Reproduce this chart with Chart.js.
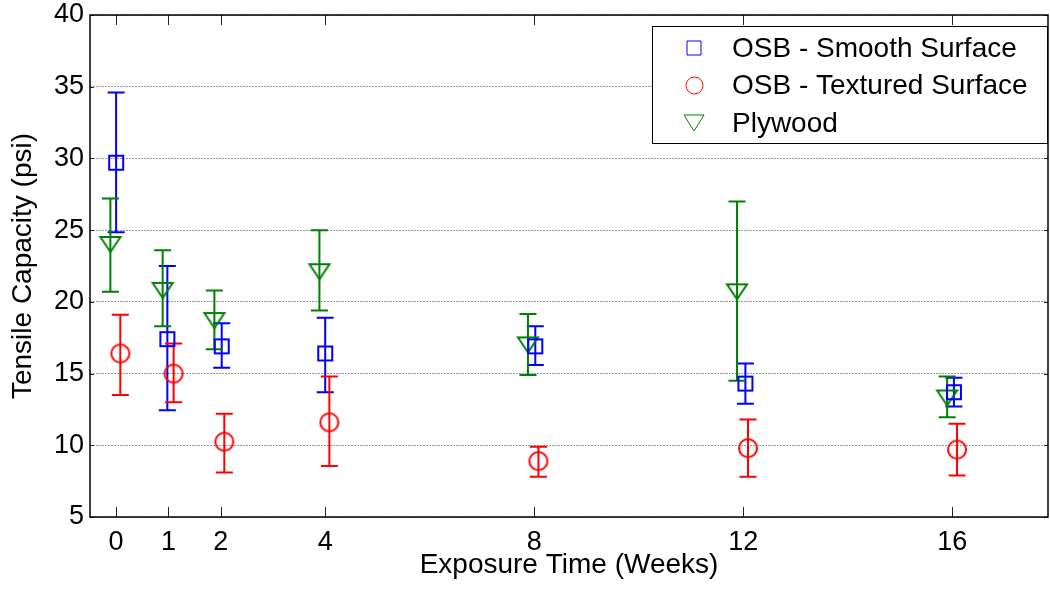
<!DOCTYPE html>
<html>
<head>
<meta charset="utf-8">
<title>Tensile Capacity vs Exposure Time</title>
<script src="https://cdn.jsdelivr.net/npm/chart.js@4.4.0/dist/chart.umd.min.js"></script>
<style>
  html, body { margin: 0; padding: 0; background: #fff; }
  #chart { display: block; }
</style>
</head>
<body>
<canvas id="chart" width="1050" height="590"></canvas>
<script>
// x tick labels (weeks)
const weekTicks = [0, 1, 2, 4, 8, 12, 16];

// OSB - Smooth Surface
const smoothX    = [0.00, 0.98, 2.02, 4.00, 8.02, 12.04, 16.03];
const smoothMean = [29.7, 17.4, 16.9, 16.4, 16.9, 14.3, 13.7];
const smoothHigh = [34.6, 22.5, 18.5, 18.9, 18.3, 15.7, 14.7];
const smoothLow  = [24.85, 12.45, 15.4, 13.7, 15.6, 12.9, 12.7];

// OSB - Textured Surface
const texturedX    = [0.08, 1.10, 2.07, 4.08, 8.08, 12.09, 16.09];
const texturedMean = [16.4, 15.0, 10.25, 11.6, 8.9, 9.8, 9.7];
const texturedHigh = [19.1, 17.1, 12.2, 14.8, 9.9, 11.8, 11.5];
const texturedLow  = [13.5, 13.0, 8.1, 8.55, 7.8, 7.8, 7.9];

// Plywood
const plywoodX    = [-0.11, 0.89, 1.88, 3.89, 7.88, 11.88, 15.90];
const plywoodMean = [24.0, 20.8, 18.7, 22.1, 17.0, 20.7, 13.3];
const plywoodHigh = [27.2, 23.6, 20.8, 25.0, 19.15, 27.0, 14.8];
const plywoodLow  = [20.7, 18.3, 16.7, 19.4, 14.9, 14.5, 11.95];

const FONT = '"Liberation Sans", Arial, sans-serif';
Chart.defaults.font.family = FONT;
Chart.defaults.font.size = 27;
Chart.defaults.color = '#000';

// small canvases used as hollow marker shapes
function makeMarker(shape, color, lw, w, h) {
    const pad = 4;
    const c = document.createElement('canvas');
    c.width = w + 2 * pad;
    c.height = h + 2 * pad;
    const g = c.getContext('2d');
    g.strokeStyle = color;
    g.lineWidth = lw;
    g.beginPath();
    if (shape === 'square') {
        g.rect(pad, pad, w, h);
    } else if (shape === 'circle') {
        g.ellipse(pad + w / 2, pad + h / 2, w / 2, h / 2, 0, 0, Math.PI * 2);
    } else {
        g.moveTo(pad, pad);
        g.lineTo(pad + w, pad);
        g.lineTo(pad + w / 2, pad + h);
        g.closePath();
    }
    g.stroke();
    return c;
}

const toPoints = (xs, mean, hi, lo) => xs.map((x, i) => ({ x: x, y: mean[i], hi: hi[i], lo: lo[i] }));

const series = [
    { label: 'OSB - Smooth Surface', color: '#0000ff', shape: 'square',
      plot: [14, 14], legend: [14, 14],
      data: toPoints(smoothX, smoothMean, smoothHigh, smoothLow) },
    { label: 'OSB - Textured Surface', color: '#ff0000', shape: 'circle',
      plot: [18, 18], legend: [17, 17],
      data: toPoints(texturedX, texturedMean, texturedHigh, texturedLow) },
    { label: 'Plywood', color: '#008000', shape: 'triangle',
      plot: [20, 15], legend: [20, 16],
      data: toPoints(plywoodX, plywoodMean, plywoodHigh, plywoodLow) }
];

const datasets = series.map(s => ({
    label: s.label,
    data: s.data,
    borderColor: s.color,
    backgroundColor: 'transparent',
    showLine: false,
    pointStyle: makeMarker(s.shape, s.color, 2, s.plot[0], s.plot[1]),
    legendMarker: makeMarker(s.shape, s.color, 1, s.legend[0], s.legend[1]),
    pointRadius: 10
}));

// error bars, axes box, inward ticks and the boxed legend
const matlabLook = {
    id: 'matlabLook',
    beforeDatasetsDraw(chart) {
        const { ctx, scales: { x, y } } = chart;
        const cap = 8.5;
        chart.data.datasets.forEach(ds => {
            ctx.save();
            ctx.strokeStyle = ds.borderColor;
            ctx.lineWidth = 2;
            ds.data.forEach(pt => {
                const px = x.getPixelForValue(pt.x);
                const top = y.getPixelForValue(pt.hi);
                const bot = y.getPixelForValue(pt.lo);
                ctx.beginPath();
                ctx.moveTo(px, top);
                ctx.lineTo(px, bot);
                ctx.moveTo(px - cap, top);
                ctx.lineTo(px + cap, top);
                ctx.moveTo(px - cap, bot);
                ctx.lineTo(px + cap, bot);
                ctx.stroke();
            });
            ctx.restore();
        });
    },
    afterDraw(chart) {
        const { ctx, chartArea: a, scales: { x, y } } = chart;
        ctx.save();

        // inward ticks
        ctx.strokeStyle = '#222';
        ctx.lineWidth = 1;
        ctx.beginPath();
        x.ticks.forEach(t => {
            const px = Math.round(x.getPixelForValue(t.value)) + 0.5;
            ctx.moveTo(px, a.bottom);
            ctx.lineTo(px, a.bottom - 10);
            ctx.moveTo(px, a.top);
            ctx.lineTo(px, a.top + 10);
        });
        y.ticks.forEach(t => {
            const py = Math.round(y.getPixelForValue(t.value)) + 0.5;
            ctx.moveTo(a.left, py);
            ctx.lineTo(a.left + 4, py);
            ctx.moveTo(a.right, py);
            ctx.lineTo(a.right - 4, py);
        });
        ctx.stroke();

        // axes box
        ctx.strokeStyle = '#000';
        ctx.lineWidth = 1.5;
        ctx.strokeRect(a.left, a.top, a.right - a.left, a.bottom - a.top);

        // legend
        const lx = a.right - 396, ly = a.top + 11, lw = 395, lh = 117;
        ctx.fillStyle = '#fff';
        ctx.fillRect(lx, ly, lw, lh);
        ctx.lineWidth = 1;
        ctx.strokeStyle = '#000';
        ctx.strokeRect(lx + 0.5, ly + 0.5, lw, lh);
        ctx.font = '28px ' + FONT;
        ctx.fillStyle = '#000';
        ctx.textBaseline = 'middle';
        ctx.textAlign = 'left';
        chart.data.datasets.forEach((ds, i) => {
            const cy = ly + 22 + i * 37.5;
            const m = ds.legendMarker;
            ctx.drawImage(m, Math.round(lx + 42 - m.width / 2), Math.round(cy - m.height / 2));
            ctx.fillText(ds.label, lx + 80, cy + 1);
        });
        ctx.restore();
    }
};

new Chart(document.getElementById('chart'), {
    type: 'scatter',
    data: { datasets: datasets },
    plugins: [matlabLook],
    options: {
        responsive: false,
        animation: false,
        devicePixelRatio: 1,
        layout: { autoPadding: false, padding: { top: 15, right: 2, left: 0, bottom: 0 } },
        plugins: {
            legend: { display: false },
            title: { display: false },
            tooltip: { enabled: false }
        },
        scales: {
            x: {
                type: 'linear',
                min: -0.5,
                max: 17.83,
                afterBuildTicks: axis => { axis.ticks = weekTicks.map(v => ({ value: v })); },
                afterFit: axis => { axis.height = 73; axis.paddingLeft = 0; axis.paddingRight = 0; },
                grid: { display: false, drawTicks: false },
                border: { display: false },
                ticks: { padding: 9, autoSkip: false, maxRotation: 0, color: '#000' },
                title: { display: true, text: 'Exposure Time (Weeks)', color: '#000', font: { size: 28 },
                         padding: { top: 0, bottom: 8 } }
            },
            y: {
                min: 5,
                max: 40,
                afterFit: axis => { axis.width = 90; axis.paddingTop = 0; axis.paddingBottom = 0; },
                grid: { color: '#9a9a9a', lineWidth: 1, drawTicks: false },
                border: { display: false, dash: [2, 1] },
                ticks: { stepSize: 5, padding: 6, color: '#000' },
                title: { display: true, text: 'Tensile Capacity (psi)', color: '#000', font: { size: 28 },
                         padding: { top: 6, bottom: 0 } }
            }
        }
    }
});
</script>
</body>
</html>
